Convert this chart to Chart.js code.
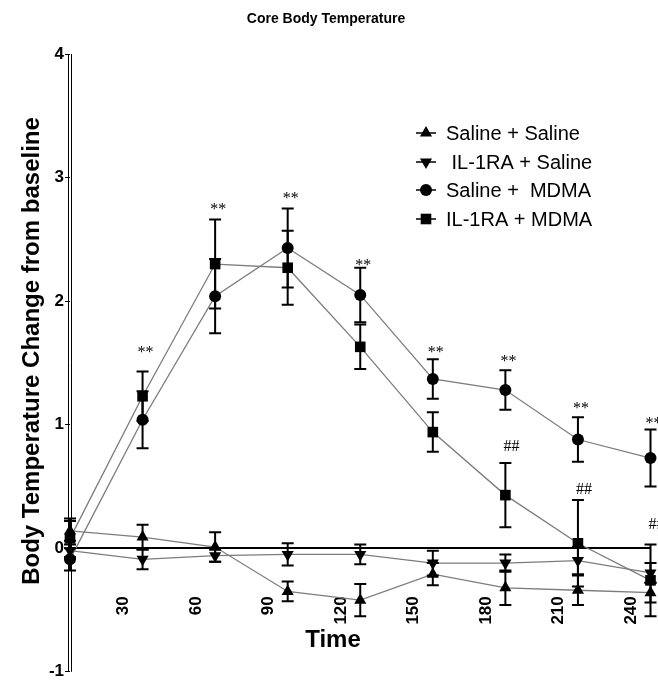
<!DOCTYPE html>
<html>
<head>
<meta charset="utf-8">
<title>Core Body Temperature</title>
<script src="https://cdn.jsdelivr.net/npm/chart.js@4.4.1/dist/chart.umd.min.js"></script>
<style>
  html, body { margin: 0; padding: 0; background: #fff; }
  #wrap { width: 658px; height: 683px; }
</style>
</head>
<body>
<div id="wrap"><canvas id="tempChart" width="658" height="683"></canvas></div>
<script>
// Data (minutes after injection, change in deg C)
const times = [10, 40, 70, 100, 130, 160, 190, 220, 250];
const xTickValues = [30, 60, 90, 120, 150, 180, 210, 240];

const salineSaline = [0.14, 0.09, 0.01, -0.35, -0.42, -0.21, -0.32, -0.34, -0.36];
const salineSalineErr = [0.08, 0.10, 0.12, 0.08, 0.13, 0.09, 0.14, 0.12, 0.08];

const il1raSaline = [-0.02, -0.09, -0.06, -0.05, -0.05, -0.12, -0.12, -0.10, -0.20];
const il1raSalineErr = [0.05, 0.08, 0.05, 0.09, 0.08, 0.10, 0.07, 0.11, 0.08];

const salineMdma = [-0.09, 1.04, 2.04, 2.43, 2.05, 1.37, 1.28, 0.88, 0.73];
const salineMdmaErr = [0.09, 0.23, 0.30, 0.32, 0.22, 0.16, 0.16, 0.18, 0.23];

const il1raMdma = [0.08, 1.23, 2.30, 2.27, 1.63, 0.94, 0.43, 0.04, -0.26];
const il1raMdmaErr = [0.16, 0.20, 0.36, 0.30, 0.18, 0.16, 0.26, 0.35, 0.29];

// significance marks: index into times, y value, text
const starIndex = [1, 2, 3, 4, 5, 6, 7, 8];
const starY = [1.61, 2.77, 2.86, 2.32, 1.61, 1.54, 1.16, 1.04];
const hashIndex = [6, 7, 8];
const hashY = [0.83, 0.48, 0.20];

const FONT = '"Liberation Sans", Arial, sans-serif';
const LINE_GREY = '#7c7c7c';

function drawMarker(ctx, style, x, y, r, rotation) {
    ctx.beginPath();
    if (style === 'circle') {
        ctx.arc(x, y, r, 0, Math.PI * 2);
    } else if (style === 'rect') {
        const s = r * Math.SQRT1_2;
        ctx.rect(x - s, y - s, s * 2, s * 2);
    } else {
        const dir = rotation === 180 ? -1 : 1;
        ctx.moveTo(x, y - dir * r);
        ctx.lineTo(x - r * 0.866, y + dir * r * 0.5);
        ctx.lineTo(x + r * 0.866, y + dir * r * 0.5);
        ctx.closePath();
    }
    ctx.fill();
}

function makeDataset(label, values, errs, style, rotation, radius) {
    return {
        label: label,
        data: times.map((t, i) => ({ x: t, y: values[i] })),
        errors: errs,
        borderColor: LINE_GREY,
        borderWidth: 1.3,
        backgroundColor: '#000',
        pointStyle: style,
        pointRotation: rotation,
        pointRadius: radius,
        pointHoverRadius: radius,
        pointBackgroundColor: '#000',
        pointBorderColor: '#000',
        pointBorderWidth: 0,
        tension: 0,
        clip: false
    };
}

const datasets = [
    makeDataset('Saline + Saline', salineSaline, salineSalineErr, 'triangle', 0, 7),
    makeDataset(' IL-1RA + Saline', il1raSaline, il1raSalineErr, 'triangle', 180, 7),
    makeDataset('Saline +  MDMA', salineMdma, salineMdmaErr, 'circle', 0, 6),
    makeDataset('IL-1RA + MDMA', il1raMdma, il1raMdmaErr, 'rect', 0, 7.5)
];

// error bars (mean +/- SEM)
const errorBarPlugin = {
    id: 'errorBars',
    afterDatasetsDraw(chart) {
        const ctx = chart.ctx;
        const x = chart.scales.x, y = chart.scales.y;
        ctx.save();
        ctx.strokeStyle = '#000';
        ctx.lineWidth = 2;
        chart.data.datasets.forEach(ds => {
            ds.data.forEach((p, i) => {
                const px = x.getPixelForValue(p.x);
                const top = y.getPixelForValue(p.y + ds.errors[i]);
                const bot = y.getPixelForValue(p.y - ds.errors[i]);
                ctx.beginPath();
                ctx.moveTo(px, top); ctx.lineTo(px, bot);
                ctx.moveTo(px - 6, top); ctx.lineTo(px + 6, top);
                ctx.moveTo(px - 6, bot); ctx.lineTo(px + 6, bot);
                ctx.stroke();
            });
        });
        ctx.restore();
    }
};

// ** and ## significance labels
const markPlugin = {
    id: 'sigMarks',
    afterDatasetsDraw(chart) {
        const ctx = chart.ctx;
        const x = chart.scales.x, y = chart.scales.y;
        ctx.save();
        ctx.fillStyle = '#000';
        ctx.textAlign = 'center';
        ctx.textBaseline = 'alphabetic';
        ctx.font = '16px "Liberation Serif", "Times New Roman", serif';
        starIndex.forEach((idx, k) => {
            ctx.fillText('**', x.getPixelForValue(times[idx]) + 3, y.getPixelForValue(starY[k]) + 8);
        });
        hashIndex.forEach((idx, k) => {
            ctx.fillText('##', x.getPixelForValue(times[idx]) + 6, y.getPixelForValue(hashY[k]) + 5);
        });
        ctx.restore();
    }
};

// y axis drawn as a thin double line, plus axis titles and legend
const framePlugin = {
    id: 'frame',
    afterDraw(chart) {
        const ctx = chart.ctx;
        const area = chart.chartArea;
        ctx.save();
        ctx.strokeStyle = '#000';
        ctx.lineWidth = 1;
        [area.left - 1.5, area.left + 1.5].forEach(lx => {
            ctx.beginPath();
            ctx.moveTo(lx, area.top);
            ctx.lineTo(lx, area.bottom);
            ctx.stroke();
        });

        ctx.fillStyle = '#000';
        ctx.textAlign = 'center';
        ctx.textBaseline = 'middle';
        ctx.font = 'bold 24px ' + FONT;
        ctx.fillText('Time', 333, 640);
        ctx.save();
        ctx.translate(32, 351);
        ctx.rotate(-Math.PI / 2);
        ctx.fillText('Body Temperature Change from baseline', 0, 0);
        ctx.restore();

        // legend
        const rowY = [133, 162, 190, 219];
        ctx.font = '20px ' + FONT;
        ctx.textAlign = 'left';
        chart.data.datasets.forEach((ds, i) => {
            const cy = rowY[i];
            ctx.strokeStyle = '#000';
            ctx.lineWidth = 1.5;
            ctx.beginPath();
            ctx.moveTo(416, cy); ctx.lineTo(436, cy);
            ctx.stroke();
            ctx.fillStyle = '#000';
            drawMarker(ctx, ds.pointStyle, 426, cy, ds.pointRadius, ds.pointRotation);
            ctx.fillText(ds.label, 446, cy + 1);
        });
        ctx.restore();
    }
};

const ctx = document.getElementById('tempChart').getContext('2d');
const tempChart = new Chart(ctx, {
    type: 'line',
    data: { datasets: datasets },
    options: {
        responsive: false,
        animation: false,
        events: [],
        layout: { padding: { top: 0, right: 6, bottom: 6, left: 0 } },
        plugins: {
            legend: { display: false },
            tooltip: { enabled: false },
            title: {
                display: true,
                text: 'Core Body Temperature',
                color: '#000',
                font: { family: FONT, size: 14, weight: 'bold' },
                padding: { top: 11, bottom: 26.2 }
            }
        },
        scales: {
            x: {
                type: 'linear',
                position: { y: 0 },
                min: 10,
                max: 250,
                afterBuildTicks: scale => {
                    scale.ticks = xTickValues.map(v => ({ value: v }));
                },
                afterFit: scale => {
                    scale.paddingLeft = 0;
                    scale.paddingRight = 0;
                },
                grid: { display: true, drawOnChartArea: false, drawTicks: false },
                border: { display: true, color: '#000', width: 2 },
                ticks: {
                    minRotation: 90,
                    maxRotation: 90,
                    padding: 48,
                    labelOffset: 5,
                    color: '#000',
                    font: { family: FONT, size: 17, weight: 'bold' }
                }
            },
            y: {
                min: -1,
                max: 4,
                afterFit: scale => { scale.width = 70; },
                ticks: {
                    stepSize: 1,
                    padding: 1,
                    color: '#000',
                    font: { family: FONT, size: 17, weight: 'bold' }
                },
                grid: { drawOnChartArea: false, drawTicks: true, tickLength: 5, color: '#000', lineWidth: 1 },
                border: { display: false }
            }
        }
    },
    plugins: [errorBarPlugin, markPlugin, framePlugin]
});
</script>
</body>
</html>
